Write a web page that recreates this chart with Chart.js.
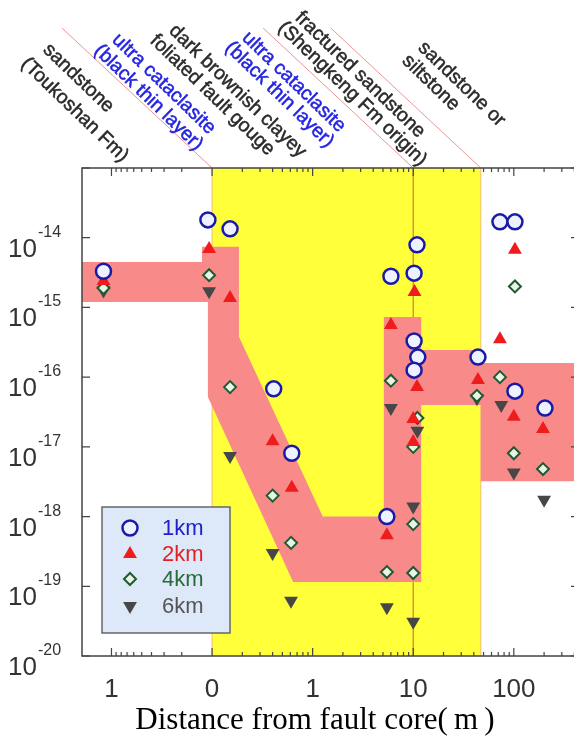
<!DOCTYPE html>
<html>
<head>
<meta charset="utf-8">
<script src="https://cdn.jsdelivr.net/npm/chart.js@4/dist/chart.umd.min.js"></script>
<style>
  html, body { margin: 0; padding: 0; background: #fff; overflow: hidden; width: 574px; height: 749px; }
  #wrap { position: relative; width: 600px; height: 749px; }
  canvas { display: block; }
</style>
</head>
<body>
<div id="wrap"><canvas id="c" width="600" height="749"></canvas></div>
<script>
// Permeability (m^2) against distance from the fault core (m).
// Negative distances lie on the hanging-wall side, 0 is the core itself.
const seriesNames = ['1km', '2km', '4km', '6km'];

const dist1km = [-1.2, -0.11, 0.151, 0.41, 0.62, 5.47, 6.0, 10.2, 10.9, 10.2, 11.1, 10.2, 44, 72.8, 102.6, 102.6, 204];
const perm1km = [3.3e-15, 1.8e-14, 1.34e-14, 6.8e-17, 8.1e-18, 1.0e-18, 2.8e-15, 3.1e-15, 7.9e-15, 3.3e-16, 1.94e-16, 1.26e-16, 1.94e-16, 1.69e-14, 1.69e-14, 6.3e-17, 3.6e-17];

const dist2km = [-1.2, -0.107, 0.151, 0.40, 0.62, 5.47, 6.0, 10.3, 10.9, 10.0, 10.0, 44, 72.8, 102.6, 100, 195];
const perm2km = [2.4e-15, 6.9e-15, 1.37e-15, 1.2e-17, 2.6e-18, 5.4e-19, 5.6e-16, 1.66e-15, 7.2e-17, 2.5e-17, 1.17e-17, 9.1e-17, 3.5e-16, 6.7e-15, 2.7e-17, 1.8e-17];

const dist4km = [-1.2, -0.107, 0.151, 0.40, 0.61, 5.47, 6.0, 10.0, 10.0, 11.0, 10.0, 43, 72.8, 102.6, 100, 195];
const perm4km = [1.9e-15, 2.9e-15, 7.2e-17, 2.0e-18, 4.2e-19, 1.6e-19, 8.9e-17, 7.8e-19, 1.55e-19, 2.6e-17, 1.0e-17, 5.4e-17, 1.0e-16, 2.0e-15, 8.1e-18, 4.8e-18];

const dist6km = [-1.2, -0.107, 0.151, 0.40, 0.61, 5.47, 6.0, 11.0, 10.0, 10.0, 43, 75, 100, 200];
const perm6km = [1.75e-15, 1.7e-15, 7.4e-18, 3.0e-19, 6.2e-20, 5.0e-20, 3.6e-17, 1.7e-17, 1.4e-18, 3.1e-20, 5.0e-17, 4.0e-17, 4.3e-18, 1.74e-18];

// Outline of the shaded permeability envelope (distance, permeability).
const envelopeDist = [-3, -0.126, -0.126, 0.185, 0.185, 1.26, 5.1, 5.1, 12, 12, 47, 47, 600, 600, 47, 47, 12, 12, 0.64, -0.11, -0.11, -3];
const envelopePerm = [4.5e-15, 4.5e-15, 7.4e-15, 7.4e-15, 3.8e-16, 1.0e-18, 1.0e-18, 7.3e-16, 7.3e-16, 2.45e-16, 2.45e-16, 1.6e-16, 1.6e-16, 3.2e-18, 3.2e-18, 4.0e-17, 4.0e-17, 1.15e-19, 1.15e-19, 5.2e-17, 1.2e-15, 1.2e-15];

// Damage zone (yellow) extent and lithology boundaries, in metres.
const damageZone = [0, 47];
const boundaryDist = [0, 10, 47];

// Axis ticks.
const xTickDist = [-1, 0, 1, 10, 100];
const xTickLabels = ['1', '0', '1', '10', '100'];
const yTickExp = [-14, -15, -16, -17, -18, -19, -20];
const yMin = 1e-20, yMax = 1e-13;

// Lithology notes written above the plot.
const lithoNotes = [
  { lines: ['sandstone', '(Toukoshan Fm)'], color: '#2a2a2a' },
  { lines: ['ultra cataclasite', '(black thin layer)'], color: '#2424e0' },
  { lines: ['dark brownish clayey', 'foliated fault gouge'], color: '#2a2a2a' },
  { lines: ['ultra cataclasite', '(black thin layer)'], color: '#2424e0' },
  { lines: ['fractured sandstone', '(Shengkeng Fm origin)'], color: '#2a2a2a' },
  { lines: ['sandstone or', 'siltstone'], color: '#2a2a2a' }
];
const xTitle = 'Distance from fault core(\u2009m\u2009)';

// Maps a distance onto the folded log axis: left side mirrored, core collapsed.
function axisPos(d) {
  if (d === 0) return 1;
  return d > 0 ? 2 + Math.log10(d) : -Math.log10(-d);
}
const pts = (ds, ks) => ds.map((d, i) => ({ x: axisPos(d), y: ks[i] }));

const styles = [
  { pointStyle: 'circle', radius: 7.5, rotation: 0, borderWidth: 2.5, fill: '#eef2ff', stroke: '#1a1aa8', text: '#2020c8' },
  { pointStyle: 'triangle', radius: 8, rotation: 0, borderWidth: 0, fill: '#ee1c1c', stroke: '#ee1c1c', text: '#e02222' },
  { pointStyle: 'rectRot', radius: 6, rotation: 0, borderWidth: 2, fill: '#e6f5e6', stroke: '#1f5a30', text: '#2a6a3a' },
  { pointStyle: 'triangle', radius: 8, rotation: 180, borderWidth: 0, fill: '#474747', stroke: '#474747', text: '#555' }
];
const seriesData = [pts(dist1km, perm1km), pts(dist2km, perm2km), pts(dist4km, perm4km), pts(dist6km, perm6km)];

const pointSets = seriesData.map((data, i) => ({
  label: seriesNames[i],
  data,
  showLine: false,
  order: i + 1,
  pointStyle: styles[i].pointStyle,
  pointRadius: styles[i].radius,
  pointRotation: styles[i].rotation,
  pointBorderWidth: styles[i].borderWidth,
  pointBackgroundColor: styles[i].fill,
  pointBorderColor: styles[i].stroke
}));

const envelopeSet = {
  label: 'envelope',
  data: pts(envelopeDist, envelopePerm),
  fill: 'shape',
  backgroundColor: '#f88a8a',
  borderWidth: 0,
  pointRadius: 0,
  tension: 0,
  order: 5
};

const yellowSet = {
  label: 'damage zone',
  data: [
    { x: axisPos(damageZone[0]), y: yMin }, { x: axisPos(damageZone[0]), y: yMax },
    { x: axisPos(damageZone[1]), y: yMax }, { x: axisPos(damageZone[1]), y: yMin }
  ],
  fill: 'shape',
  backgroundColor: '#ffff3a',
  borderWidth: 0,
  pointRadius: 0,
  tension: 0,
  order: 8
};

const boundarySets = boundaryDist.map(d => ({
  label: 'boundary',
  data: [{ x: axisPos(d), y: yMin }, { x: axisPos(d), y: yMax }],
  borderColor: d === 10 ? 'rgba(215,95,60,0.85)' : 'rgba(235,140,120,0.6)',
  borderWidth: d === 10 ? 1.2 : 1,
  pointRadius: 0,
  fill: false,
  order: 6
}));

const decor = {
  id: 'decor',
  afterDraw(chart) {
    const ctx = chart.ctx;
    const { left, right, top, bottom } = chart.chartArea;
    const xs = chart.scales.x, ys = chart.scales.y;
    const sans = '"Liberation Sans", Arial, sans-serif';
    ctx.save();

    // slanted boundary lines above the frame
    ctx.strokeStyle = 'rgba(230,130,130,0.85)';
    ctx.lineWidth = 1;
    const ang = 43 * Math.PI / 180;
    boundaryDist.forEach(d => {
      const x0 = xs.getPixelForValue(axisPos(d));
      const y1 = 28;
      ctx.beginPath();
      ctx.moveTo(x0, top);
      ctx.lineTo(x0 - (top - y1) / Math.tan(ang), y1);
      ctx.stroke();
    });

    // frame
    ctx.strokeStyle = '#444';
    ctx.lineWidth = 1.5;
    ctx.strokeRect(left, top, right - left, bottom - top);

    // x ticks (inward), major and log minor
    ctx.lineWidth = 1.2;
    const tick = (x, len) => {
      ctx.beginPath();
      ctx.moveTo(x, bottom); ctx.lineTo(x, bottom - len);
      ctx.moveTo(x, top); ctx.lineTo(x, top + len);
      ctx.stroke();
    };
    xTickDist.forEach(d => tick(xs.getPixelForValue(axisPos(d)), 8));
    const minors = [];
    for (let m = 2; m <= 9; m++) minors.push(-0.1 * m);
    [0.1, 1, 10, 100].forEach(b => { for (let m = 2; m <= 9; m++) minors.push(b * m); });
    minors.forEach(d => {
      const p = axisPos(d);
      if (p > xs.min && p < xs.max) tick(xs.getPixelForValue(p), 4);
    });

    // y ticks (inward) on both sides
    yTickExp.concat([-13]).forEach(e => {
      const y = ys.getPixelForValue(Math.pow(10, e));
      ctx.beginPath();
      ctx.moveTo(left, y); ctx.lineTo(left + 8, y);
      ctx.moveTo(right, y); ctx.lineTo(right - 8, y);
      ctx.stroke();
    });

    // y tick labels as powers of ten
    ctx.fillStyle = '#333';
    ctx.textAlign = 'left';
    ctx.textBaseline = 'alphabetic';
    yTickExp.forEach(e => {
      const y = ys.getPixelForValue(Math.pow(10, e));
      ctx.font = '26px ' + sans;
      ctx.fillText('10', 8, y + 19);
      const w = ctx.measureText('10').width;
      ctx.font = '16px ' + sans;
      ctx.fillText(String(e), 8 + w + 1, y - 1);
    });

    // x tick labels
    ctx.font = '26px ' + sans;
    ctx.textAlign = 'center';
    xTickDist.forEach((d, i) => {
      ctx.fillText(xTickLabels[i], xs.getPixelForValue(axisPos(d)), 697);
    });

    // axis title
    ctx.fillStyle = '#000';
    ctx.font = '31px "Liberation Serif", "Times New Roman", serif';
    ctx.fillText(xTitle, 315, 729);

    // lithology notes, slanted
    const starts = [
      [[46, 47], [24, 61]],
      [[115, 37], [97, 48]],
      [[172, 28], [153, 38]],
      [[245, 35], [228, 45]],
      [[298, 15], [281, 25]],
      [[421, 45], [405, 58]]
    ];
    ctx.font = '19.5px ' + sans;
    ctx.textAlign = 'left';
    ctx.textBaseline = 'middle';
    ctx.lineWidth = 0.5;
    lithoNotes.forEach((n, i) => {
      ctx.fillStyle = n.color;
      ctx.strokeStyle = n.color;
      n.lines.forEach((line, j) => {
        const [x, y] = starts[i][j];
        ctx.save();
        ctx.translate(x, y);
        ctx.rotate(44 * Math.PI / 180);
        ctx.fillText(line, 0, 0);
        ctx.strokeText(line, 0, 0);
        ctx.restore();
      });
    });

    // legend
    const lx = 102, ly = 507, lw = 128, lh = 126;
    ctx.fillStyle = '#dde9f8';
    ctx.fillRect(lx, ly, lw, lh);
    ctx.strokeStyle = '#666';
    ctx.lineWidth = 1.5;
    ctx.strokeRect(lx, ly, lw, lh);
    const rows = [528, 554, 579, 606];
    ctx.font = '22px ' + sans;
    ctx.textAlign = 'left';
    ctx.textBaseline = 'middle';
    seriesNames.forEach((name, i) => {
      const s = styles[i];
      ctx.fillStyle = s.fill;
      ctx.strokeStyle = s.stroke;
      ctx.lineWidth = s.borderWidth;
      Chart.helpers.drawPoint(ctx, { pointStyle: s.pointStyle, radius: s.radius, rotation: s.rotation, borderWidth: s.borderWidth }, 130, rows[i]);
      ctx.fillStyle = s.text;
      ctx.fillText(name, 162, rows[i] + 1);
    });

    ctx.restore();
  }
};

new Chart(document.getElementById('c'), {
  type: 'line',
  data: { datasets: [...pointSets, envelopeSet, ...boundarySets, yellowSet] },
  options: {
    responsive: false,
    animation: false,
    parsing: true,
    layout: { padding: { left: 82, top: 168, right: 21, bottom: 93 } },
    scales: {
      x: { type: 'linear', min: -0.293, max: 4.648, display: false },
      y: { type: 'logarithmic', min: yMin, max: yMax, display: false }
    },
    plugins: {
      legend: { display: false },
      tooltip: { enabled: false },
      filler: { propagate: false }
    }
  },
  plugins: [decor]
});
</script>
</body>
</html>
